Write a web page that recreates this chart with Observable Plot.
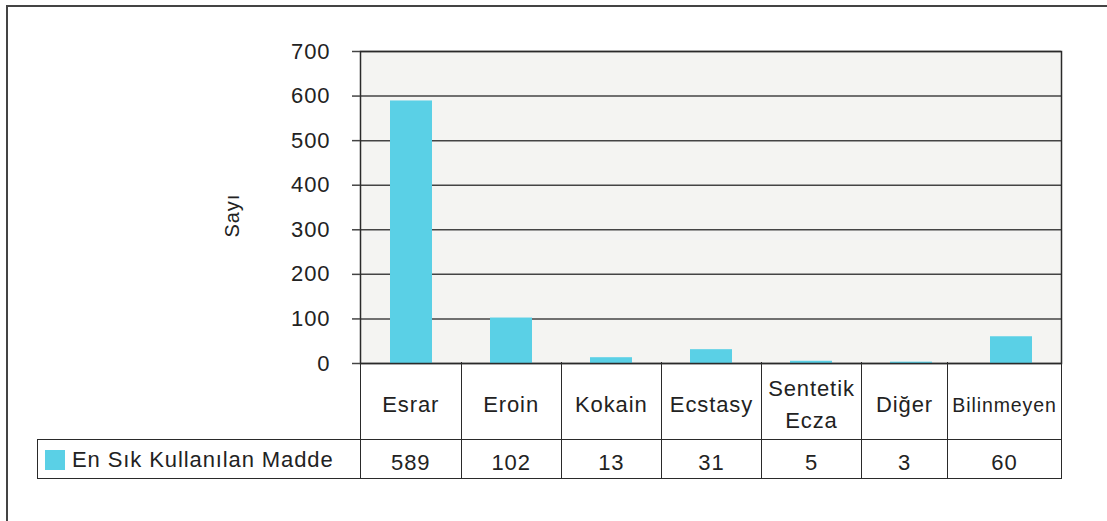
<!DOCTYPE html>
<html><head><meta charset="utf-8">
<script src="https://cdn.jsdelivr.net/npm/d3@7"></script>
<script src="https://cdn.jsdelivr.net/npm/@observablehq/plot@0.6"></script>
<style>
body{margin:0;background:#fff;font-family:"Liberation Sans",Arial,sans-serif;color:#222;}
#wrap{position:relative;width:1107px;height:521px;overflow:hidden;background:#fff;}
#outer{position:absolute;left:6px;top:5px;width:1300px;height:700px;border-left:2px solid #444;border-top:2px solid #444;}
#chart{position:absolute;left:0;top:0;}
#chart svg text{letter-spacing:0.9px;}
#dt{position:absolute;left:37px;top:362px;border-collapse:collapse;table-layout:fixed;font-size:22px;letter-spacing:0.9px;}
#dt td{box-sizing:border-box;padding:0;text-align:center;vertical-align:middle;border:1.5px solid #2a2a2a;overflow:visible;white-space:nowrap;}
#dt tr.cat td{height:77px;line-height:32px;padding-top:10px;border-top:none;}
#dt tr.cat td.blank{border:none;border-bottom:1.5px solid #2a2a2a;}
#dt tr.val td{height:39px;line-height:24px;padding-top:9px;}
#dt td.leg{text-align:left;padding-left:7px;padding-top:3px !important;}
#dt td.small{font-size:19.5px;}
.sw{display:inline-block;width:20px;height:20px;vertical-align:-3px;margin-right:7px;}
</style>
</head><body>
<div id="wrap"><div id="outer"></div><div id="chart"></div></div>
<script>
const categories = ["Esrar","Eroin","Kokain","Ecstasy","Sentetik Ecza","Diğer","Bilinmeyen"];
const categoryLines = [["Esrar"],["Eroin"],["Kokain"],["Ecstasy"],["Sentetik","Ecza"],["Diğer"],["Bilinmeyen"]];
const values = [589,102,13,31,5,3,60];
const seriesName = "En Sık Kullanılan Madde";
const yTicks = [0,100,200,300,400,500,600,700];
const yLabel = "Sayı";
const barColor = "#5ad0e6";

const data = categories.map((c,i)=>({category:c, value:values[i]}));

const plot = Plot.plot({
  width:1107, height:521,
  marginLeft:360, marginRight:46, marginTop:51, marginBottom:158,
  style:{fontFamily:"Liberation Sans, Arial, sans-serif", background:"transparent", color:"#222"},
  x:{domain:categories, paddingInner:0.58, paddingOuter:0.29, axis:null},
  y:{domain:[0,700], ticks:yTicks},
  marks:[
    Plot.frame({fill:"#f4f4f2"}),
    Plot.gridY(yTicks,{stroke:"#444", strokeOpacity:1, strokeWidth:1.5}),
    Plot.barY(data,{x:"category", y:"value", fill:barColor}),
    Plot.frame({stroke:"#2a2a2a", strokeWidth:1.5}),
    Plot.axisY(yTicks,{tickSize:8, tickPadding:22, fontSize:22, label:null, stroke:"#444", strokeWidth:1.5}),
    Plot.text([yLabel],{frameAnchor:"left", dx:-128, dy:30, rotate:-90, fontSize:20, fill:"#222"})
  ]
});
document.getElementById("chart").appendChild(plot);

// data table below the plot
const widths = [323, 100.5, 100.2, 100.3, 100, 100, 86, 114];
const table = d3.select("#wrap").append("table").attr("id","dt");
const cg = table.append("colgroup");
widths.forEach(w=>cg.append("col").style("width", w+"px"));
const r1 = table.append("tr").attr("class","cat");
r1.append("td").attr("class","blank");
categoryLines.forEach((lines,i)=>{
  const td = r1.append("td").classed("small", categories[i]==="Bilinmeyen");
  td.html(lines.join("<br>"));
});
const r2 = table.append("tr").attr("class","val");
const leg = r2.append("td").attr("class","leg");
leg.append("span").attr("class","sw").style("background", barColor);
leg.append("span").text(seriesName);
values.forEach(v=> r2.append("td").text(v));
</script>
</body></html>
